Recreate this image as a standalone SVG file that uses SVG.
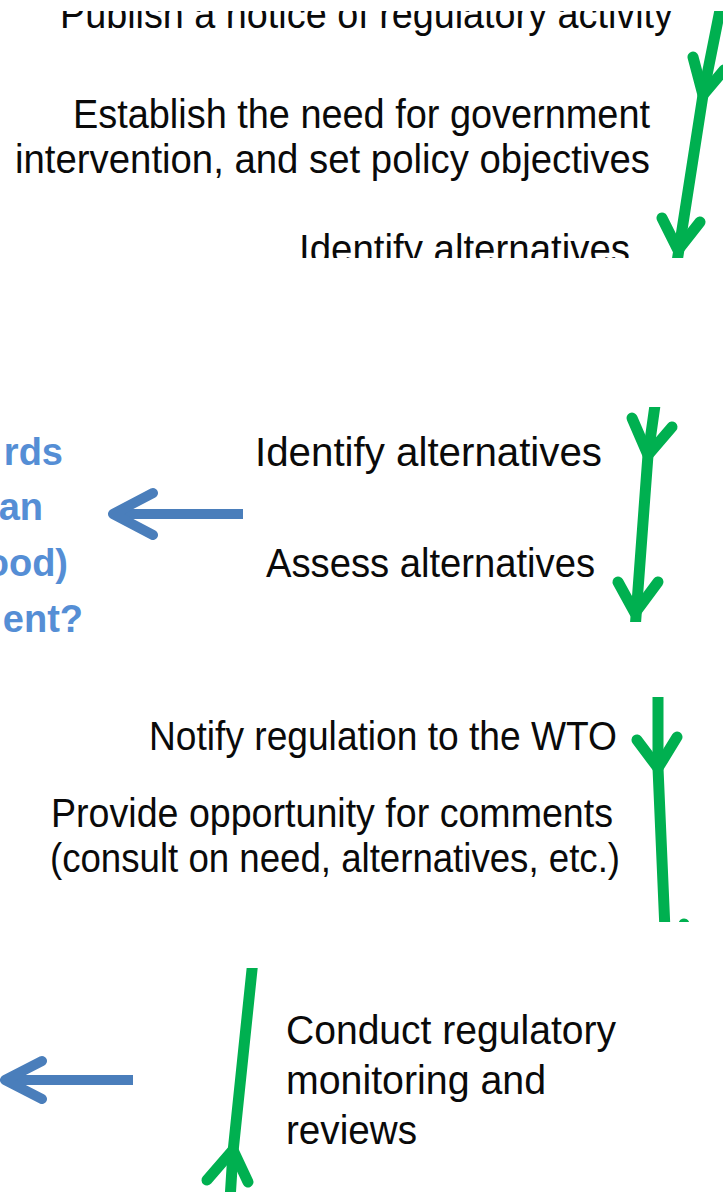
<svg xmlns="http://www.w3.org/2000/svg" width="723" height="1192" viewBox="0 0 723 1192">
<style>
.t{font-family:"Liberation Sans",Arial,sans-serif;font-size:40px;fill:#0a0a0a}
.b{font-family:"Liberation Sans",Arial,sans-serif;font-size:38px;font-weight:bold;fill:#558ED5;text-anchor:end}
.g{fill:none;stroke:#00B050;stroke-width:11;stroke-linecap:round;stroke-linejoin:round}
.bl{fill:none;stroke:#4A7EBB;stroke-width:10;stroke-linejoin:round}
</style>
<defs>
<clipPath id="c1"><rect x="0" y="11" width="723" height="247"/></clipPath>
<clipPath id="c2"><rect x="0" y="407" width="723" height="215"/></clipPath>
<clipPath id="c3"><rect x="0" y="697" width="723" height="225"/></clipPath>
<clipPath id="c4"><rect x="0" y="968" width="723" height="224"/></clipPath>
</defs>
<rect width="723" height="1192" fill="#ffffff"/>
<g id="n-publish" clip-path="url(#c1)"><text class="t" x="60" y="28" textLength="613" lengthAdjust="spacingAndGlyphs">Publish a notice of regulatory activity</text></g>
<g id="n-establish">
<text class="t" x="73" y="128" textLength="577" lengthAdjust="spacingAndGlyphs">Establish the need for government</text>
<text class="t" x="15" y="173" textLength="635" lengthAdjust="spacingAndGlyphs">intervention, and set policy objectives</text>
</g>
<g id="n-identify1" clip-path="url(#c1)"><text class="t" x="299" y="263" textLength="331" lengthAdjust="spacingAndGlyphs">Identify alternatives</text></g>
<g id="n-identify2"><text class="t" x="255" y="466" textLength="347" lengthAdjust="spacingAndGlyphs">Identify alternatives</text></g>
<g id="n-assess"><text class="t" x="266" y="577" textLength="329" lengthAdjust="spacingAndGlyphs">Assess alternatives</text></g>
<g id="n-question">
<text class="b" x="63" y="465">rds</text>
<text class="b" x="43" y="520">an</text>
<text class="b" x="68" y="576">ood)</text>
<text class="b" x="83" y="632">ent?</text>
</g>
<g id="n-notify"><text class="t" x="149" y="750" textLength="468" lengthAdjust="spacingAndGlyphs">Notify regulation to the WTO</text></g>
<g id="n-comments">
<text class="t" x="51" y="827" textLength="562" lengthAdjust="spacingAndGlyphs">Provide opportunity for comments</text>
<text class="t" x="50" y="872" textLength="570" lengthAdjust="spacingAndGlyphs">(consult on need, alternatives, etc.)</text>
</g>
<g id="n-monitor">
<text class="t" x="286" y="1044" textLength="330" lengthAdjust="spacingAndGlyphs">Conduct regulatory</text>
<text class="t" x="286" y="1094" textLength="260" lengthAdjust="spacingAndGlyphs">monitoring and</text>
<text class="t" x="286" y="1144" textLength="131" lengthAdjust="spacingAndGlyphs">reviews</text>
</g>
<g id="connectors">
<g clip-path="url(#c1)">
<path class="g" d="M722,0 L703,95 L677,262"/>
<path class="g" d="M693,57 L703,95 L724,70"/>
<path class="g" d="M662,218 L678,250 L700,222"/>
</g>
<g clip-path="url(#c2)">
<path class="g" d="M656,398 L648,455 L635,630"/>
<path class="g" d="M632,418 L648,455 L672,427"/>
<path class="g" d="M618,582 L635,613 L658,582"/>
</g>
<g clip-path="url(#c3)">
<path class="g" d="M658,690 L658,768 L665,930"/>
<path class="g" d="M637,740 L658,768 L677,737"/>
<path class="g" d="M684,924 L667,958"/>
</g>
<g clip-path="url(#c4)">
<path class="g" d="M253,960 L233,1152 L230,1200"/>
<path class="g" d="M207,1180 L233,1150 L248,1182"/>
</g>
<path class="bl" d="M243,514 L116,514"/>
<path class="bl" d="M153,493 L113,514 L153,535" stroke-linecap="round"/>
<path class="bl" d="M133,1080 L8,1080"/>
<path class="bl" d="M42,1061 L5,1080 L42,1099" stroke-linecap="round"/>
</g>
</svg>
